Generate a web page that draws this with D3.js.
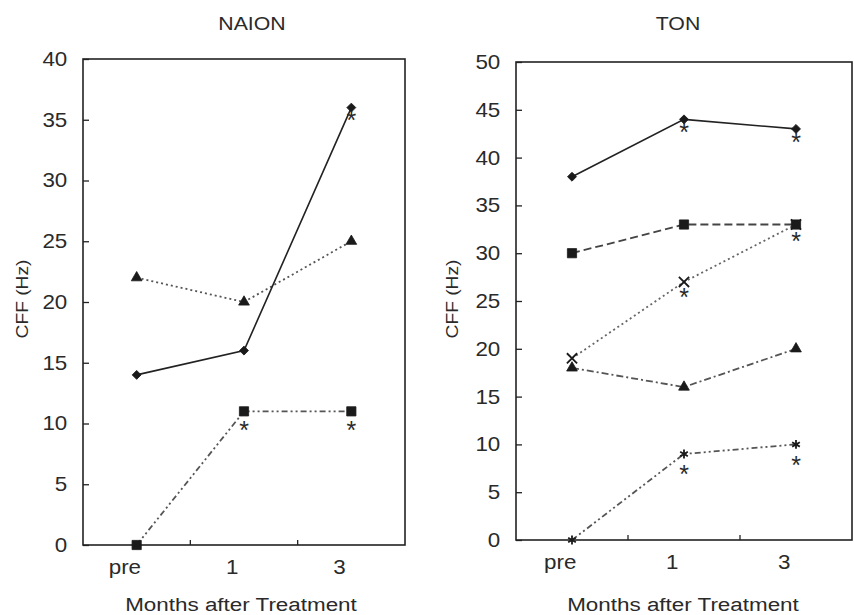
<!DOCTYPE html>
<html><head><meta charset="utf-8">
<script src="https://cdn.jsdelivr.net/npm/d3@7"></script>
<style>
body{margin:0;background:#fff;}
svg{display:block;}
text{font-family:"Liberation Sans",Arial,Helvetica,sans-serif;fill:#2a2a2a;}
</style>
</head><body><svg id="chart" width="854" height="615"></svg>
<script>
// ---- data ----
const categories = ["pre", "1", "3"];
const naionTicks = [0, 5, 10, 15, 20, 25, 30, 35, 40];
const tonTicks = [0, 5, 10, 15, 20, 25, 30, 35, 40, 45, 50];

const naionDiamond = [14, 16, 36];
const naionTriangle = [22, 20, 25];
const naionSquare = [0, 11, 11];
const naionSigCats = ["3", "1", "3"];
const naionSigValues = [35.4, 9.9, 9.9];

const tonDiamond = [38, 44, 43];
const tonSquare = [30, 33, 33];
const tonCross = [19, 27, 33];
const tonTriangle = [18, 16, 20];
const tonStar = [0, 9, 10];
const tonSigCats = ["1", "3", "1", "3", "1", "3"];
const tonSigValues = [43.3, 42.2, 26.0, 31.8, 7.5, 8.4];

const xTitle = "Months after Treatment";
const yTitle = "CFF (Hz)";

// ---- layout / style ----
const SX = 1.12; // horizontal stretch of the printed font
const panels = [
  { title: "NAION", titleX: 252, x0: 83, x1: 405, yTop: 59, yBot: 545, yMax: 40, ticks: naionTicks,
    yLabelX: 28, xLabelX: 241,
    series: [
      { values: naionTriangle, sym: "triangle", dash: "2,3", color: "#555" },
      { values: naionSquare, sym: "square", dash: "6,3,2,3,2,3", color: "#555" },
      { values: naionDiamond, sym: "diamond", dash: null, color: "#222" }
    ],
    sigCats: naionSigCats, sigValues: naionSigValues },
  { title: "TON", titleX: 678, x0: 516, x1: 852, yTop: 62, yBot: 540, yMax: 50, ticks: tonTicks,
    yLabelX: 458, xLabelX: 683,
    series: [
      { values: tonCross, sym: "x", dash: "2,3", color: "#666" },
      { values: tonTriangle, sym: "triangle", dash: "7,3,2,3", color: "#555" },
      { values: tonStar, sym: "asterisk", dash: "6,3,2,3,2,3", color: "#555" },
      { values: tonSquare, sym: "square", dash: "8,4", color: "#444" },
      { values: tonDiamond, sym: "diamond", dash: null, color: "#222" }
    ],
    sigCats: tonSigCats, sigValues: tonSigValues }
];

const symTypes = {
  diamond: { type: d3.symbolSquare, size: 40, fill: true, rot: 45 },
  square: { type: d3.symbolSquare, size: 85, fill: true, rot: 0 },
  triangle: { type: d3.symbolTriangle, size: 50, fill: true, rot: 0 },
  x: { type: d3.symbolX, size: 70, fill: false, rot: 0 },
  asterisk: { type: d3.symbolAsterisk, size: 55, fill: false, rot: 0 }
};

const svg = d3.select("#chart");

panels.forEach(p => {
  const g = svg.append("g");
  const x = d3.scalePoint().domain(categories).range([p.x0, p.x1]).padding(0.5);
  const y = d3.scaleLinear().domain([0, p.yMax]).range([p.yBot, p.yTop]);

  // frame
  g.append("rect")
    .attr("x", p.x0).attr("y", p.yTop)
    .attr("width", p.x1 - p.x0).attr("height", p.yBot - p.yTop)
    .attr("fill", "none").attr("stroke", "#222").attr("stroke-width", 1.6);

  // y axis
  const ya = g.append("g").attr("transform", `translate(${p.x0},0)`)
    .call(d3.axisLeft(y).tickValues(p.ticks).tickSizeInner(-6).tickSizeOuter(0).tickPadding(14));
  ya.select(".domain").remove();
  ya.selectAll(".tick line").attr("stroke", "#222").attr("stroke-width", 1.3);
  ya.selectAll(".tick text").attr("transform", `scale(${SX},1)`)
    .style("font-size", "20px").style("font-family", '"Liberation Sans",Arial,sans-serif').attr("fill", "#2a2a2a");

  // x axis (labels)
  const xa = g.append("g").attr("transform", `translate(0,${p.yBot})`)
    .call(d3.axisBottom(x).tickSize(0).tickPadding(15));
  xa.select(".domain").remove();
  xa.selectAll(".tick text").attr("dx", -11).attr("transform", `scale(${SX},1)`)
    .style("font-size", "20px").style("font-family", '"Liberation Sans",Arial,sans-serif').attr("fill", "#2a2a2a");

  // x minor ticks at category boundaries (inward)
  const bounds = categories.slice(1).map(c => x(c) - x.step() / 2);
  g.selectAll(".btick").data(bounds).enter().append("line")
    .attr("x1", d => d).attr("x2", d => d)
    .attr("y1", p.yBot).attr("y2", p.yBot - 5)
    .attr("stroke", "#222").attr("stroke-width", 1.3);

  // titles
  g.append("text").attr("transform", `translate(${p.titleX},30) scale(${SX},1)`)
    .attr("text-anchor", "middle").style("font-size", "19px").text(p.title);
  g.append("text").attr("transform", `translate(${p.xLabelX},611) scale(${SX + 0.06},1)`)
    .attr("text-anchor", "middle").style("font-size", "19px").text(xTitle);
  g.append("text").attr("transform", `translate(${p.yLabelX},299) rotate(-90) scale(1.2,1)`)
    .attr("text-anchor", "middle").style("font-size", "16px").attr("fill", "#2a2a2a").text(yTitle);

  // lines
  const line = d3.line().x((d, i) => x(categories[i])).y(d => y(d));
  p.series.forEach(s => {
    g.append("path").datum(s.values)
      .attr("d", line).attr("fill", "none")
      .attr("stroke", s.color).attr("stroke-width", s.dash ? 1.8 : 1.6)
      .attr("stroke-dasharray", s.dash);
  });

  // markers
  p.series.forEach(s => {
    const st = symTypes[s.sym];
    g.selectAll(null).data(s.values).enter().append("path")
      .attr("transform", (d, i) => `translate(${x(categories[i])},${y(d)}) rotate(${st.rot})`)
      .attr("d", d3.symbol().type(st.type).size(st.size))
      .attr("fill", st.fill ? "#1a1a1a" : "none")
      .attr("stroke", "#1a1a1a")
      .attr("stroke-width", st.fill ? 0.8 : 1.8);
  });

  // significance asterisks
  g.selectAll(null).data(p.sigValues).enter().append("text")
    .attr("x", (d, i) => x(p.sigCats[i]))
    .attr("y", d => y(d))
    .attr("dy", "0.58em")
    .attr("text-anchor", "middle")
    .style("font-size", "25px").attr("fill", "#707070")
    .text("*");
});
</script>
</body></html>
